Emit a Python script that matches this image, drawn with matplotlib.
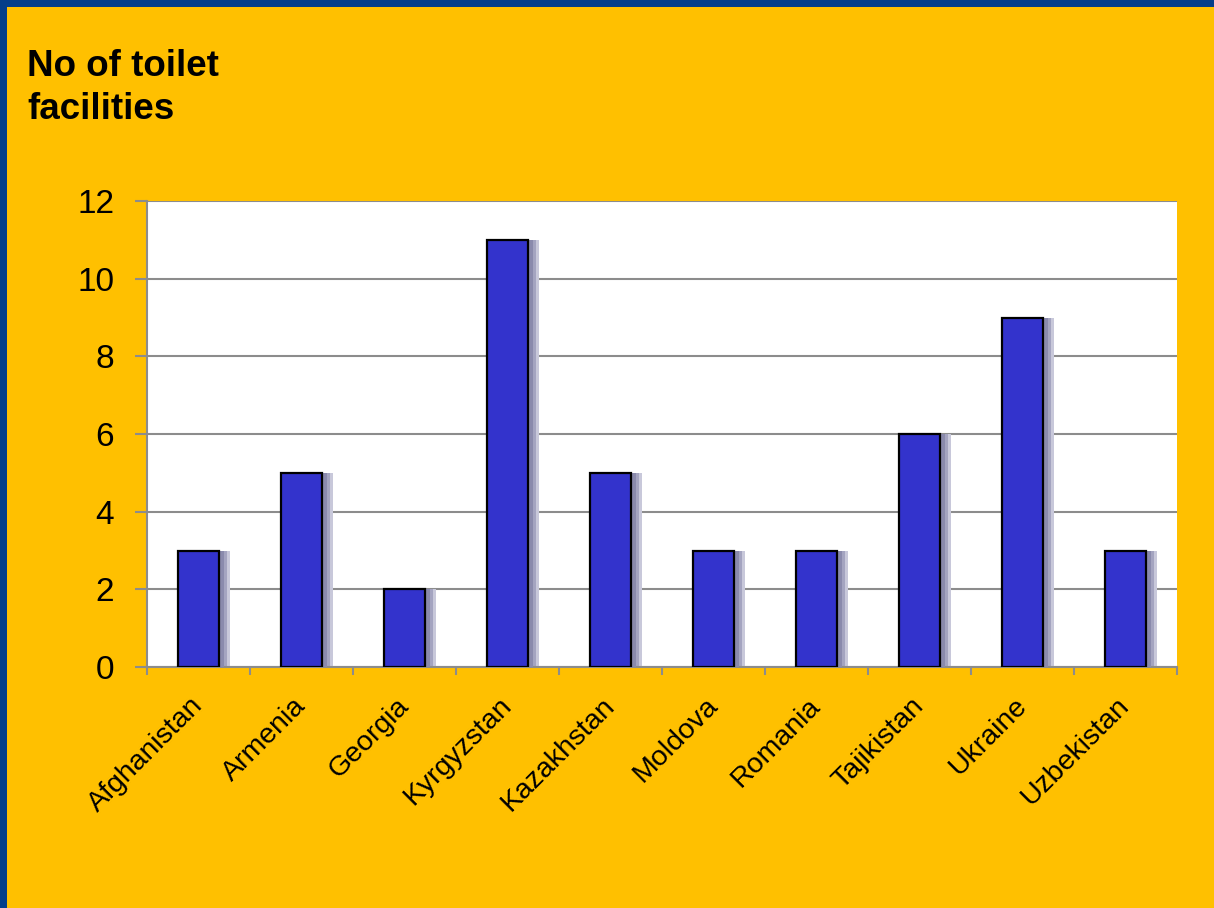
import matplotlib
matplotlib.use("Agg")
import matplotlib.pyplot as plt
from matplotlib.patches import Rectangle
from matplotlib.transforms import ScaledTranslation
import numpy as np

countries = ["Afghanistan", "Armenia", "Georgia", "Kyrgyzstan", "Kazakhstan",
             "Moldova", "Romania", "Tajikistan", "Ukraine", "Uzbekistan"]
toilets = [3, 5, 2, 11, 5, 3, 3, 6, 9, 3]
yticks = [0, 2, 4, 6, 8, 10, 12]
title = "No of toilet\nfacilities"

plt.rcParams['font.family'] = ['Liberation Sans', 'DejaVu Sans']

BG = "#FFC000"
BLUE_BORDER = "#043E8A"
BAR = "#3333CC"
GRID = "#8C8C8C"

fig = plt.figure(figsize=(12.14, 9.08), dpi=100)
fig.patch.set_facecolor(BG)

# blue frame on top and left
fig.patches.append(Rectangle((0, 1 - 7/908), 1, 7/908, transform=fig.transFigure,
                             facecolor=BLUE_BORDER, edgecolor='none', zorder=0))
fig.patches.append(Rectangle((0, 0), 7/1214, 1, transform=fig.transFigure,
                             facecolor=BLUE_BORDER, edgecolor='none', zorder=0))

ax = fig.add_axes([147/1214, 1 - 667/908, 1030/1214, 466/908])
ax.set_facecolor("white")

x = np.arange(len(countries))
w = 0.40
px = 1.0 / 103.0  # one pixel in data units along x
# soft drop shadows
ax.bar(x + 11 * px, toilets, width=w, color="#c8c8da", edgecolor='none', zorder=2)
ax.bar(x + 8 * px, toilets, width=w, color="#a4a4c0", edgecolor='none', zorder=2.3)
ax.bar(x + 5 * px, toilets, width=w, color="#8a8aac", edgecolor='none', zorder=2.6)
ax.bar(x, toilets, width=w, color=BAR, edgecolor="black", linewidth=1.6, zorder=3)

ax.set_xlim(-0.5, len(countries) - 0.5)
ax.set_ylim(0, 12)
ax.set_yticks(yticks)
ax.yaxis.grid(True, color=GRID, linewidth=1.5, zorder=1)
ax.set_axisbelow(True)

for s in ["top", "right"]:
    ax.spines[s].set_visible(False)
for s in ["left", "bottom"]:
    ax.spines[s].set_color(GRID)
    ax.spines[s].set_linewidth(1.5)

ax.tick_params(axis='y', length=8.6, width=1.5, color=GRID, pad=15, labelsize=24)
ax.set_xticks(x)
ax.set_xticklabels(countries, rotation=45, ha='right', va='top',
                   rotation_mode='anchor', fontsize=20.5)
ax.tick_params(axis='x', which='major', length=0, pad=17)
shift = ScaledTranslation(-9/100, -2/100, fig.dpi_scale_trans)
for lab in ax.get_xticklabels():
    lab.set_transform(lab.get_transform() + shift)
ax.set_xticks(np.arange(len(countries) + 1) - 0.5, minor=True)
ax.tick_params(axis='x', which='minor', length=5.8, width=1.5, color=GRID)

fig.text(27/1214, 1 - 49/908, title, fontsize=26.5, fontweight='bold',
         ha='left', va='top', linespacing=1.28)

fig.savefig("out.png", dpi=100, facecolor=fig.get_facecolor())
